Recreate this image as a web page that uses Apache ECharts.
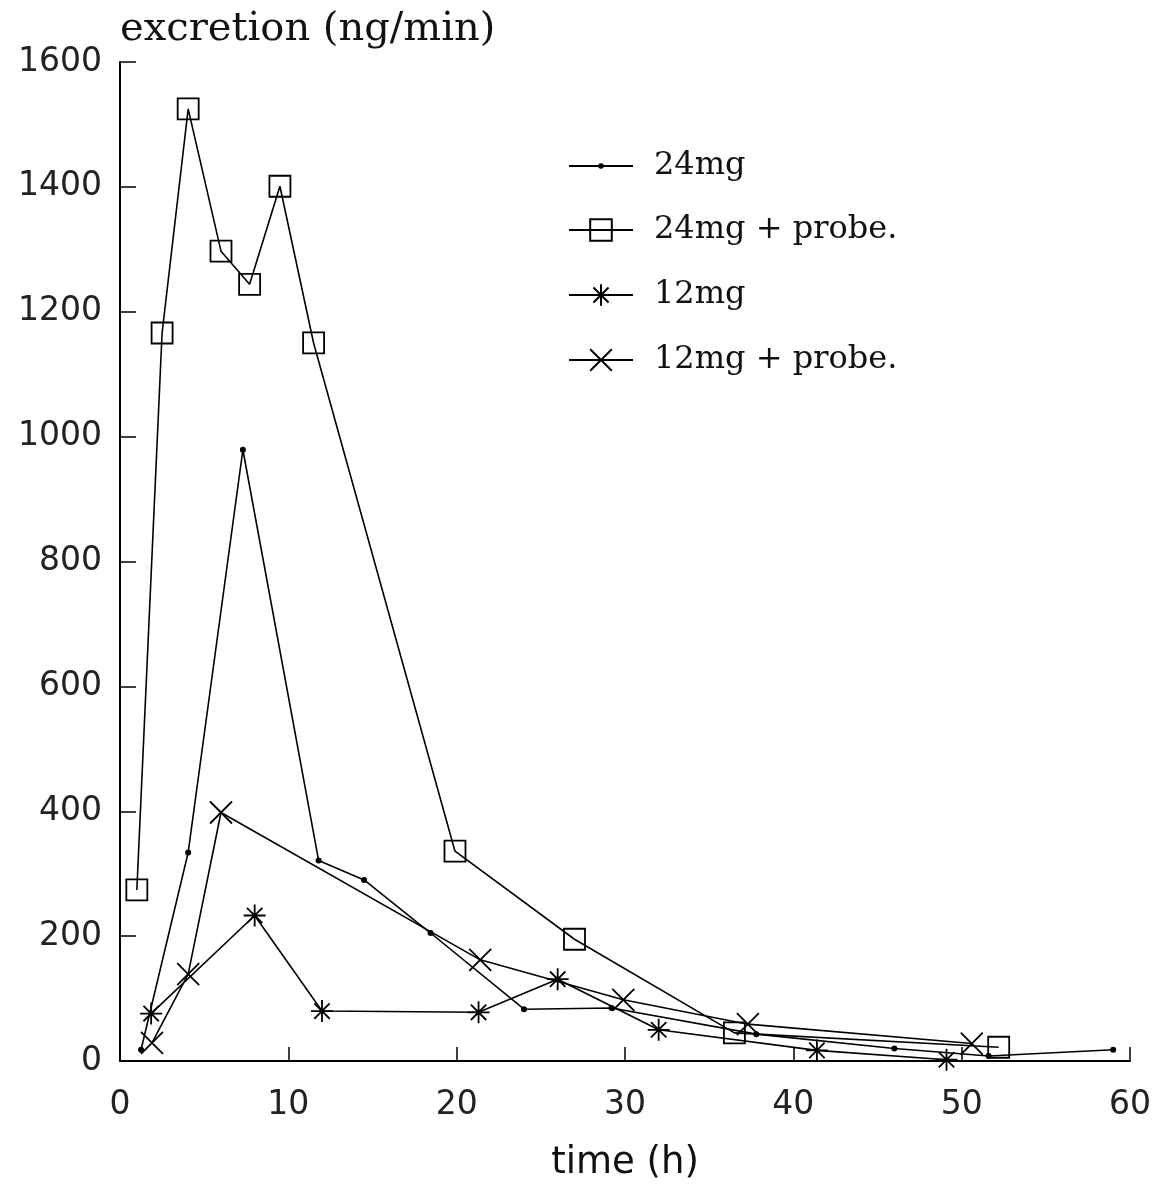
<!DOCTYPE html>
<html>
<head>
<meta charset="utf-8">
<script src="https://cdn.jsdelivr.net/npm/echarts@6/dist/echarts.min.js"></script>
<style>html,body{margin:0;padding:0;background:#fff;}#c{width:1168px;height:1193px;}</style>
</head>
<body>
<div id="c"></div>
<script>
var xTicks = [0, 10, 20, 30, 40, 50, 60];
var yTicks = [0, 200, 400, 600, 800, 1000, 1200, 1400, 1600];

var seriesNames = ['24mg', '24mg + probe.', '12mg', '12mg + probe.'];

var t24 = [1.25, 4.05, 7.3, 11.8, 14.5, 18.45, 24.0, 29.2, 37.8, 46.0, 51.6, 59.0];
var v24 = [18, 334, 979, 321, 290, 205, 83, 85, 43, 20, 8, 18];

var t24p = [1.0, 2.5, 4.05, 6.0, 7.7, 9.5, 11.5, 19.9, 27.0, 36.5, 52.2];
var v24p = [274, 1166, 1525, 1297, 1244, 1401, 1150, 336, 195, 45, 22];

var t12 = [1.85, 8.0, 12.0, 21.3, 26.0, 32.0, 41.4, 49.1];
var v12 = [76, 233, 80, 78, 131, 50, 17, 2];

var t12p = [1.9, 4.05, 6.0, 21.4, 29.9, 37.3, 50.6];
var v12p = [29, 139, 398, 162, 98, 59, 28];

function pairs(xs, ys) { return xs.map(function (x, i) { return [x, ys[i]]; }); }

var ASTER = 'path://M0,10L20,10M10,0L10,20M3,3L17,17M17,3L3,17';
var CROSS = 'path://M2,2L18,18M18,2L2,18';
var SQUARE = 'path://M0,0L20,0L20,20L0,20Z';

var serifFont = 'DejaVu Serif';
var tickFont = 'DejaVu Sans';

function mk(name, data, symbol, size, filled) {
  return {
    name: name,
    type: 'line',
    data: data,
    symbol: symbol,
    symbolSize: size,
    showAllSymbol: true,
    lineStyle: { color: '#000', width: 1.6 },
    itemStyle: {
      color: filled ? '#000' : 'rgba(0,0,0,0)',
      borderColor: '#000',
      borderWidth: filled ? 0 : 1.8
    },
    emphasis: { disabled: true },
    z: 3
  };
}

var legendText = { fontFamily: serifFont, fontSize: 32, color: '#111', padding: [0, 0, 0, 16] };

var chart = echarts.init(document.getElementById('c'), null, { renderer: 'canvas' });
chart.setOption({
  animation: false,
  backgroundColor: '#fff',
  grid: { left: 120, right: 38, top: 62, bottom: 132, containLabel: false },
  legend: [
    {
      orient: 'vertical',
      left: 563,
      top: 145,
      itemWidth: 64,
      itemHeight: 7,
      textStyle: legendText,
      data: [seriesNames[0]]
    },
    {
      orient: 'vertical',
      left: 563,
      top: 209,
      itemGap: 33,
      itemWidth: 64,
      itemHeight: 27,
      textStyle: legendText,
      data: seriesNames.slice(1)
    }
  ],
  xAxis: {
    type: 'value',
    min: 0, max: 60, interval: 10,
    name: 'time (h)',
    nameLocation: 'middle',
    nameGap: 84,
    nameTextStyle: { fontFamily: tickFont, fontSize: 37, color: '#111' },
    axisLine: { show: true, lineStyle: { color: '#000', width: 2 } },
    axisTick: { show: true, inside: true, length: 14, lineStyle: { color: '#000', width: 1.5 } },
    axisLabel: {
      fontFamily: tickFont, fontSize: 33, color: '#222', margin: 28,
      formatter: function (v) { return xTicks.indexOf(v) >= 0 ? String(v) : ''; }
    },
    splitLine: { show: false }
  },
  yAxis: {
    type: 'value',
    min: 0, max: 1600, interval: 200,
    name: 'excretion (ng/min)',
    nameLocation: 'end',
    nameGap: 12,
    nameTextStyle: { fontFamily: serifFont, fontSize: 40, color: '#111', align: 'left' },
    axisLine: { show: true, lineStyle: { color: '#000', width: 2 } },
    axisTick: { show: true, inside: true, length: 16, lineStyle: { color: '#000', width: 1.5 } },
    axisLabel: {
      fontFamily: tickFont, fontSize: 33, color: '#222', margin: 18,
      formatter: function (v) { return yTicks.indexOf(v) >= 0 ? String(v) : ''; }
    },
    splitLine: { show: false }
  },
  series: [
    mk(seriesNames[0], pairs(t24, v24), 'circle', 6, true),
    mk(seriesNames[1], pairs(t24p, v24p), SQUARE, 21, false),
    mk(seriesNames[2], pairs(t12, v12), ASTER, 22, false),
    mk(seriesNames[3], pairs(t12p, v12p), CROSS, 22, false)
  ]
});
</script>
</body>
</html>
